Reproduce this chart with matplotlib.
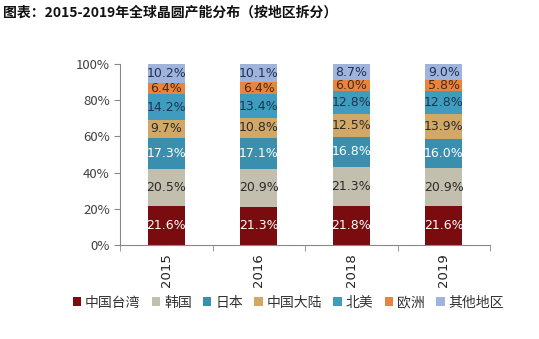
import numpy as np
import matplotlib.pyplot as plt

plt.rcParams['font.family'] = ['Noto Sans CJK SC', 'DejaVu Sans']

years = ['2015', '2016', '2018', '2019']
regions = ['中国台湾', '韩国', '日本', '中国大陆', '北美', '欧洲', '其他地区']
taiwan = [21.6, 21.3, 21.8, 21.6]
korea = [20.5, 20.9, 21.3, 20.9]
japan = [17.3, 17.1, 16.8, 16.0]
mainland = [9.7, 10.8, 12.5, 13.9]
north_america = [14.2, 13.4, 12.8, 12.8]
europe = [6.4, 6.4, 6.0, 5.8]
others = [10.2, 10.1, 8.7, 9.0]

series = [taiwan, korea, japan, mainland, north_america, europe, others]
colors = ['#7a0c10', '#c2bfae', '#3a8fae', '#d2a867', '#3f9cbf', '#e8843e', '#9fb3dc']
text_colors = ['white', '#2b2b2b', 'white', '#2b2b2b', '#1c3550', '#4a2a1a', '#1c3550']

fig = plt.figure(figsize=(5.39, 3.39), dpi=100)
ax = fig.add_axes([0.223, 0.277, 0.686, 0.534])

x = np.arange(len(years))
bottom = np.zeros(len(years))
handles = []
for vals, c, tc, name in zip(series, colors, text_colors, regions):
    vals = np.array(vals)
    b = ax.bar(x, vals, 0.4, bottom=bottom, color=c, label=name)
    handles.append(b)
    for xi, v, bt in zip(x, vals, bottom):
        ax.text(xi, bt + v / 2, f'{v:.1f}%', ha='center', va='center',
                fontsize=9, color=tc, family=['DejaVu Sans'])
    bottom += vals

ax.set_xlim(-0.5, len(years) - 0.5)
ax.set_ylim(0, 100)
ax.set_yticks(np.arange(0, 101, 20))
ax.set_yticklabels([f'{v}%' for v in range(0, 101, 20)], fontsize=9.5, color='#404040')
ax.set_xticks(x)
ax.set_xticklabels(years, rotation=90, fontsize=9.5, color='#222222', family=['DejaVu Sans'])
ax.set_xticks(np.arange(-0.5, len(years)), minor=True)
ax.tick_params(axis='x', which='major', length=0, pad=6)
ax.tick_params(axis='x', which='minor', length=4, color='#888888', direction='out')
ax.tick_params(axis='y', length=4, color='#888888', direction='out')

for s in ['top', 'right']:
    ax.spines[s].set_visible(False)
for s in ['left', 'bottom']:
    ax.spines[s].set_color('#888888')

fig.text(0.006, 0.962, '图表：2015-2019年全球晶圆产能分布（按地区拆分）',
         fontsize=10, fontweight='bold', ha='left', va='center', color='#111111')

fig.legend(handles=handles, labels=regions, loc='center', bbox_to_anchor=(0.535, 0.107),
           ncol=7, frameon=False, fontsize=10, handlelength=0.6, handleheight=0.6,
           handletextpad=0.3, columnspacing=0.8, labelcolor='#333333')

fig.savefig('out.png', dpi=100)
